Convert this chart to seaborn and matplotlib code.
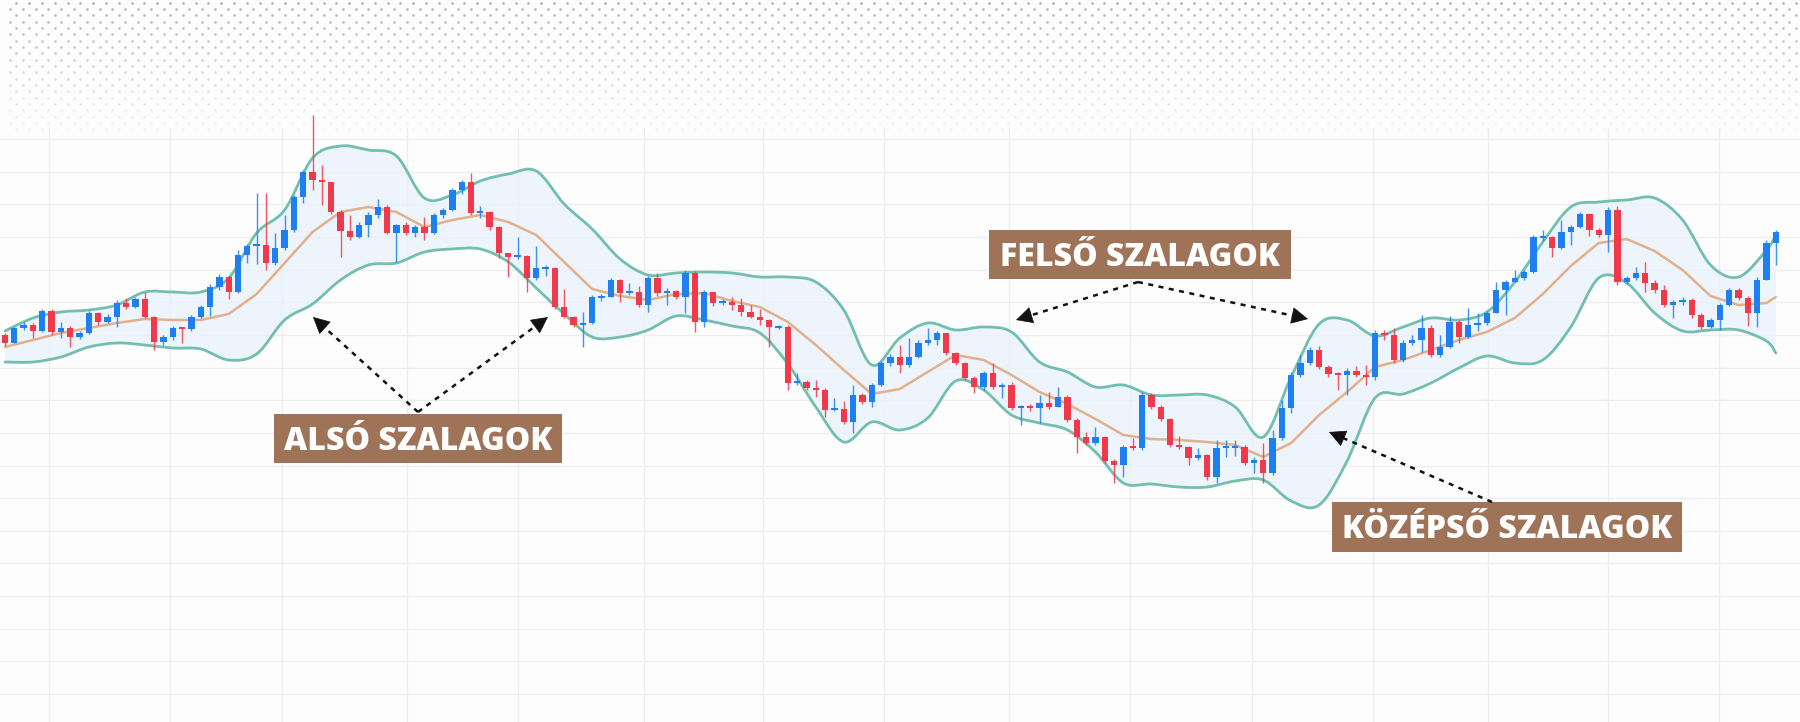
import numpy as np
import matplotlib
matplotlib.use("Agg")
import matplotlib.pyplot as plt
from matplotlib.path import Path
from matplotlib.patches import PathPatch
import seaborn as sns

sns.set_theme(style="white")
plt.rcParams['font.family'] = ['Open Sans', 'DejaVu Sans']

# ---------------- data (price levels, screen-down units) -------------
first_open = 335
close_lvl = [
    343, 328, 325, 331, 311, 332, 328, 337, 333, 313,
    322, 317, 303, 307, 299, 317, 342, 337, 328, 329,
    317, 307, 287, 277, 292, 255, 246, 245, 263, 248,
    230, 197, 172, 180, 182, 212, 231, 237, 225, 215,
    207, 233, 225, 233, 227, 233, 215, 210, 190, 182,
    213, 212, 227, 253, 257, 256, 278, 268, 268, 307,
    317, 325, 323, 297, 297, 280, 293, 292, 305, 278,
    293, 291, 297, 273, 322, 292, 303, 302, 305, 312,
    317, 320, 327, 327, 383, 382, 388, 390, 410, 409,
    422, 395, 402, 385, 363, 357, 365, 357, 343, 340,
    333, 353, 363, 378, 387, 373, 387, 385, 408, 407,
    408, 403, 407, 397, 420, 437, 443, 437, 461, 465,
    447, 448, 395, 407, 419, 445, 447, 458, 455, 477,
    448, 447, 447, 463, 460, 473, 438, 408, 375, 363,
    350, 367, 374, 375, 371, 375, 377, 333, 335, 360,
    343, 340, 328, 355, 347, 322, 337, 325, 323, 313,
    290, 282, 278, 272, 237, 237, 248, 232, 227, 214,
    230, 235, 210, 282, 278, 273, 283, 290, 305, 302,
    300, 315, 327, 320, 305, 290, 298, 313, 280, 243,
    232]
high_lvl = [
    333, 327, 322, 323, 309, 309, 322, 326, 331, 311,
    312, 314, 300, 298, 297, 292, 316, 335, 326, 327,
    315, 305, 284, 274, 276, 250, 244, 193, 193, 233,
    215, 195, 170, 115, 165, 185, 210, 215, 222, 212,
    199, 205, 224, 222, 225, 217, 213, 208, 188, 180,
    173, 206, 211, 226, 255, 237, 255, 246, 265, 267,
    289, 316, 312, 295, 294, 278, 279, 283, 286, 276,
    273, 288, 290, 270, 271, 290, 292, 299, 297, 298,
    305, 309, 319, 325, 325, 373, 380, 380, 388, 398,
    401, 385, 393, 383, 361, 354, 345, 338, 340, 328,
    331, 333, 352, 362, 376, 371, 363, 383, 382, 405,
    404, 395, 392, 387, 395, 418, 432, 427, 436, 459,
    445, 438, 392, 393, 405, 418, 436, 446, 448, 454,
    440, 440, 440, 445, 457, 443, 430, 400, 372, 355,
    347, 346, 365, 372, 368, 366, 365, 330, 330, 328,
    340, 335, 315, 325, 335, 316, 320, 308, 313, 311,
    282, 280, 270, 270, 235, 230, 236, 220, 225, 212,
    213, 228, 207, 206, 276, 267, 262, 280, 285, 300,
    297, 298, 313, 318, 303, 288, 288, 296, 277, 240,
    230]
low_lvl = [
    346, 343, 330, 338, 332, 335, 338, 347, 339, 334,
    325, 323, 327, 309, 308, 318, 350, 345, 340, 343,
    331, 318, 316, 290, 299, 293, 263, 264, 270, 265,
    250, 232, 203, 190, 205, 214, 257, 240, 238, 237,
    218, 234, 262, 235, 237, 240, 234, 218, 211, 194,
    215, 218, 230, 258, 277, 259, 292, 280, 276, 309,
    318, 327, 347, 324, 301, 297, 302, 295, 307, 312,
    296, 305, 299, 313, 332, 327, 306, 305, 310, 316,
    318, 325, 347, 329, 390, 385, 390, 397, 417, 411,
    424, 433, 404, 407, 386, 366, 373, 367, 358, 345,
    345, 355, 365, 380, 393, 390, 389, 398, 410, 425,
    411, 423, 409, 404, 422, 453, 445, 445, 463, 483,
    477, 450, 450, 409, 421, 447, 449, 465, 460, 480,
    483, 457, 456, 465, 473, 483, 475, 440, 413, 377,
    365, 369, 377, 390, 395, 377, 385, 380, 340, 363,
    362, 345, 352, 357, 357, 348, 343, 338, 331, 325,
    313, 315, 282, 280, 273, 241, 257, 249, 245, 228,
    236, 237, 252, 285, 284, 280, 292, 293, 307, 318,
    305, 318, 329, 328, 330, 306, 300, 326, 327, 276,
    265]

# Bollinger bands, read at every third candle (+ last candle)
band_idx = list(range(0, 190, 3)) + [190]
upper_lvl = [331, 318, 312, 310, 305, 292, 292, 292, 278, 233, 210, 158, 146, 150, 156, 198,
             195, 181, 174, 171, 204, 229, 259, 275, 273, 272, 273, 277, 277, 282, 310, 365,
             338, 323, 330, 327, 332, 362, 372, 387, 385, 395, 395, 395, 407, 437, 377, 324,
             320, 336, 327, 318, 320, 312, 282, 242, 207, 202, 200, 198, 220, 265, 277, 250, 235]
middle_lvl = [347, 340, 333, 328, 323, 319, 320, 320, 314, 294, 263, 232, 212, 207, 212, 227,
              220, 215, 222, 235, 262, 289, 296, 300, 294, 293, 301, 307, 322, 345, 370, 394,
              389, 372, 355, 360, 375, 392, 404, 419, 435, 439, 440, 442, 445, 457, 443, 415,
              392, 367, 360, 350, 340, 332, 318, 294, 266, 243, 239, 251, 270, 296, 305, 303, 297]
lower_lvl = [362, 362, 357, 347, 343, 345, 348, 349, 360, 354, 320, 304, 280, 265, 263, 252,
             249, 249, 262, 288, 314, 337, 337, 330, 316, 320, 326, 333, 364, 407, 442, 422,
             430, 418, 381, 390, 415, 423, 430, 452, 483, 484, 487, 487, 481, 480, 501, 505,
             461, 398, 394, 383, 368, 356, 363, 360, 327, 278, 283, 313, 331, 330, 330, 341, 353]

labels = ["ALSÓ SZALAGOK", "FELSŐ SZALAGOK", "KÖZÉPSŐ SZALAGOK"]

# ---------------- styling ----------------
W, H = 1800, 722
BG = "#fdfdfd"
UP, DOWN = "#1E80F0", "#F0394A"
TEAL, TAN = "#72BFAF", "#E2B08C"
BOX = "#9E7358"

fig = plt.figure(figsize=(W / 100, H / 100), dpi=100)
fig.patch.set_facecolor(BG)

# background layer: dotted header + grid
bg = fig.add_axes([0, 0, 1, 1])
bg.set_xlim(0, W); bg.set_ylim(H, 0); bg.axis("off")
for r in range(22):
    yy = 2.7 + 6.33 * r
    xs = np.arange(10.0 if r % 2 else 16.4, W, 12.8)
    a = max(0.0, 0.85 * (1 - yy / 140.0))
    bg.scatter(xs, np.full_like(xs, yy), s=3.6, color="#a0a0a0", alpha=a, lw=0, zorder=1)
for k in range(18):
    bg.axhline(139 + 32.65 * k, color="#ededed", lw=0.9, zorder=0)
for vx in [49, 170, 282, 407, 518, 644, 763, 884, 1009, 1130, 1252, 1373, 1488, 1608, 1719]:
    bg.plot([vx, vx], [128, H], color="#ededed", lw=0.9, zorder=0)

# chart layer
ax = fig.add_axes([0, 0, 1, 1], facecolor="none")
n = len(close_lvl)
x = np.arange(n)
c = np.array(close_lvl, float)
o = np.r_[first_open, c[:-1]]
hi = np.minimum(np.array(high_lvl, float), np.minimum(o, c))
lo = np.maximum(np.array(low_lvl, float), np.maximum(o, c))
up = c <= o
cols = np.where(up, UP, DOWN)


def smooth_segments(xs, ys):
    """Bezier (Catmull-Rom) path through the read points."""
    P = np.column_stack([xs, ys]).astype(float)
    verts = [P[0]]
    codes = [Path.MOVETO]
    for i in range(len(P) - 1):
        p0 = P[i - 1] if i > 0 else P[i]
        p1, p2 = P[i], P[i + 1]
        p3 = P[i + 2] if i + 2 < len(P) else P[i + 1]
        verts += [p1 + (p2 - p0) / 6, p2 - (p3 - p1) / 6, p2]
        codes += [Path.CURVE4] * 3
    return verts, codes


uv, uc = smooth_segments(band_idx, upper_lvl)
lv, lc = smooth_segments(band_idx[::-1], lower_lvl[::-1])
fill_path = Path(uv + [lv[0]] + lv[1:] + [uv[0]],
                 uc + [Path.LINETO] + lc[1:] + [Path.CLOSEPOLY])
ax.add_patch(PathPatch(fill_path, facecolor="#e9f2fb", alpha=0.8, lw=0, zorder=1))
ax.add_patch(PathPatch(Path(uv, uc), fill=False, edgecolor=TEAL, lw=2.0, zorder=2,
                       capstyle="round", joinstyle="round"))
ax.add_patch(PathPatch(Path(lv, lc), fill=False, edgecolor=TEAL, lw=2.0, zorder=2,
                       capstyle="round", joinstyle="round"))
sns.lineplot(x=band_idx, y=middle_lvl, ax=ax, color=TAN, lw=1.8, sort=False,
             estimator=None, zorder=2)

ax.vlines(x, hi, lo, colors=cols, lw=1.0, alpha=0.85, zorder=3)
small = np.abs(c - o) < 1.6
ax.bar(x, np.maximum(np.abs(c - o), 1.6), bottom=np.minimum(o, c) - np.where(small, 0.8, 0),
       width=0.68, color=cols, lw=0, zorder=4)

dx = 9.32
ax.set_xlim(-5 / dx, (W - 5) / dx)
ax.set_ylim(H, 0)
ax.axis("off")

# annotation layer
ov = fig.add_axes([0, 0, 1, 1], facecolor="none")
ov.set_xlim(0, W); ov.set_ylim(H, 0); ov.axis("off")

boxes = [(274, 414, 562, 463, 450), (989, 230, 1291, 279, 266), (1332, 502, 1682, 552, 538)]
for (x0, y0, x1, y1, base), lab in zip(boxes, labels):
    ov.add_patch(plt.Rectangle((x0, y0), x1 - x0, y1 - y0, color=BOX, lw=0, zorder=5))
    ov.text((x0 + x1) / 2, base, lab, color="white", fontsize=23, fontweight=800,
            ha="center", va="baseline", zorder=6)


def dotted_arrow(p0, p1):
    p0 = np.array(p0, float); p1 = np.array(p1, float)
    d = p1 - p0
    u = d / np.hypot(*d)
    end = p1 - u * 11
    ov.plot([p0[0], end[0]], [p0[1], end[1]], color="#111111", lw=1.8,
            linestyle=(0, (2.0, 2.2)), zorder=5, solid_capstyle="butt")
    ov.annotate("", xy=p1, xytext=p1 - u * 14,
                arrowprops=dict(arrowstyle="-|>,head_length=0.55,head_width=0.28",
                                color="#111111", lw=0.5, shrinkA=0, shrinkB=0,
                                mutation_scale=20), zorder=6)


dotted_arrow((418, 412), (313, 317))
dotted_arrow((418, 412), (548, 317))
dotted_arrow((1138, 282), (1016, 320))
dotted_arrow((1138, 282), (1308, 319))
dotted_arrow((1492, 502), (1329, 432))

fig.savefig("out.png", dpi=100, facecolor=BG)
